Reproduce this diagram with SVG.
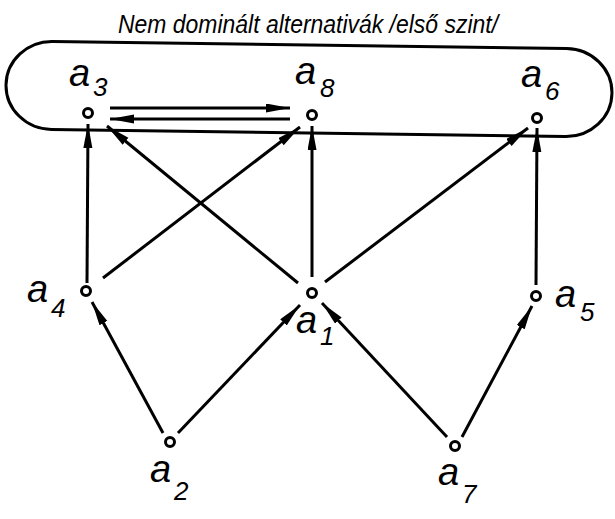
<svg xmlns="http://www.w3.org/2000/svg" width="615" height="519" viewBox="0 0 615 519">
<style>
.lbl{font-family:"Liberation Sans",Arial,sans-serif;font-style:italic;font-size:38px;fill:#000}
.sub{font-family:"Liberation Sans",Arial,sans-serif;font-style:italic;font-size:26px;fill:#000}
.title{font-family:"Liberation Sans",Arial,sans-serif;font-style:italic;font-size:25px;fill:#000}
.node{fill:#fff;stroke:#000;stroke-width:3}
.edge{stroke:#000;stroke-width:3;fill:none;marker-end:url(#ah)}
.frame{fill:none;stroke:#000;stroke-width:3}
</style>
<defs>
<marker id="ah" markerUnits="userSpaceOnUse" markerWidth="26" markerHeight="12" refX="24" refY="4.5" orient="auto">
<path d="M0,0 L24,4.5 L0,9 Z" fill="#000"/>
</marker>
</defs>
<rect width="615" height="519" fill="#fff"/>
<text class="title" x="118" y="33" textLength="380" lengthAdjust="spacingAndGlyphs">Nem dominált alternativák /első szint/</text>
<rect class="frame" x="6" y="45" width="606" height="88" rx="46" ry="46" transform="rotate(0.8 310 88)"/>
<g id="connectors">
<line class="edge" x1="110" y1="108" x2="290" y2="108"/>
<line class="edge" x1="290" y1="119" x2="110" y2="119"/>
<line class="edge" x1="87" y1="283" x2="88" y2="124"/>
<line class="edge" x1="298" y1="283" x2="107" y2="126"/>
<line class="edge" x1="103" y1="278" x2="300" y2="127"/>
<line class="edge" x1="312" y1="277" x2="312" y2="126"/>
<line class="edge" x1="325" y1="282" x2="528" y2="128"/>
<line class="edge" x1="536" y1="285" x2="537" y2="128"/>
<line class="edge" x1="163" y1="433" x2="92" y2="302"/>
<line class="edge" x1="178" y1="433" x2="300" y2="305"/>
<line class="edge" x1="447" y1="437" x2="322" y2="303"/>
<line class="edge" x1="462" y1="437" x2="532" y2="306"/>
</g>
<g id="a3"><circle class="node" cx="88" cy="113" r="4.5"/><text class="lbl" x="69" y="86">a</text><text class="sub" x="93" y="96">3</text></g>
<g id="a8"><circle class="node" cx="312" cy="115" r="4.5"/><text class="lbl" x="295" y="84">a</text><text class="sub" x="320" y="97">8</text></g>
<g id="a6"><circle class="node" cx="537" cy="118" r="4.5"/><text class="lbl" x="521" y="87">a</text><text class="sub" x="545" y="100">6</text></g>
<g id="a4"><circle class="node" cx="86" cy="291" r="4.5"/><text class="lbl" x="27" y="302">a</text><text class="sub" x="51" y="317">4</text></g>
<g id="a1"><circle class="node" cx="312" cy="293" r="4.5"/><text class="lbl" x="296" y="333">a</text><text class="sub" x="320" y="345">1</text></g>
<g id="a5"><circle class="node" cx="536" cy="296" r="4.5"/><text class="lbl" x="555" y="307">a</text><text class="sub" x="580" y="321">5</text></g>
<g id="a2"><circle class="node" cx="170" cy="442" r="4.5"/><text class="lbl" x="150" y="482">a</text><text class="sub" x="174" y="500">2</text></g>
<g id="a7"><circle class="node" cx="455" cy="446" r="4.5"/><text class="lbl" x="438" y="485">a</text><text class="sub" x="462" y="503">7</text></g>
</svg>
